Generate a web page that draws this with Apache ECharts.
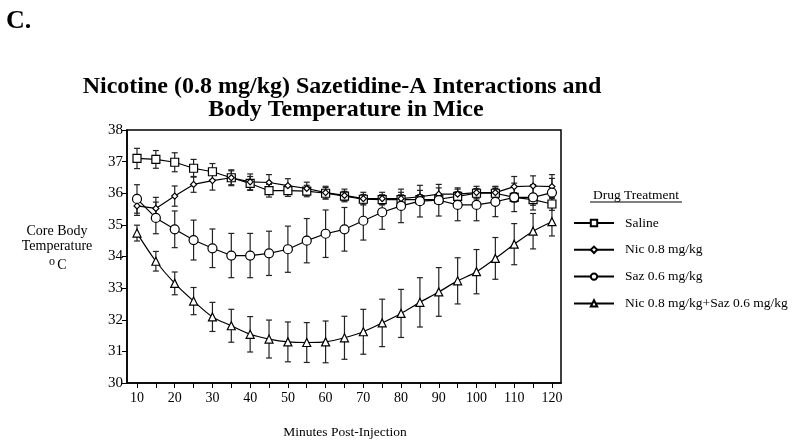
<!DOCTYPE html>
<html>
<head>
<meta charset="utf-8">
<script src="https://cdn.jsdelivr.net/npm/echarts@6/dist/echarts.min.js"></script>
<style>
  html, body { margin: 0; padding: 0; background: #fff; }
  #chart { width: 800px; height: 445px; }
</style>
</head>
<body>
<div id="chart"></div>
<script>
// minutes post-injection
const minutes = [10, 15, 20, 25, 30, 35, 40, 45, 50, 55, 60, 65, 70, 75, 80, 85, 90, 95, 100, 105, 110, 115, 120]
const xTicks = [10, 15, 20, 25, 30, 35, 40, 45, 50, 55, 60, 65, 70, 75, 80, 85, 90, 95, 100, 105, 110, 115, 120]
const xLabels = [10, 20, 30, 40, 50, 60, 70, 80, 90, 100, 110, 120]

// core body temperature (mean) and error
const saline = [37.10, 37.07, 36.98, 36.79, 36.68, 36.49, 36.31, 36.08, 36.08, 36.07, 36.00, 35.91, 35.81, 35.80, 35.80, 35.80, 35.81, 35.90, 36.00, 36.00, 35.87, 35.80, 35.66]
const salineErr = [0.32, 0.28, 0.30, 0.28, 0.26, 0.22, 0.22, 0.20, 0.18, 0.18, 0.18, 0.15, 0.15, 0.15, 0.15, 0.15, 0.15, 0.15, 0.15, 0.15, 0.15, 0.18, 0.20]
const nic = [35.60, 35.52, 35.91, 36.28, 36.40, 36.49, 36.36, 36.34, 36.24, 36.15, 36.02, 35.93, 35.83, 35.83, 35.83, 35.89, 35.97, 35.97, 36.02, 36.02, 36.21, 36.23, 36.21]
const nicErr = [0.30, 0.35, 0.32, 0.25, 0.30, 0.25, 0.25, 0.25, 0.22, 0.20, 0.20, 0.20, 0.20, 0.20, 0.20, 0.20, 0.20, 0.20, 0.20, 0.20, 0.32, 0.32, 0.38]
const saz = [35.82, 35.22, 34.86, 34.52, 34.26, 34.03, 34.03, 34.10, 34.23, 34.50, 34.72, 34.86, 35.13, 35.40, 35.60, 35.75, 35.78, 35.63, 35.63, 35.73, 35.87, 35.87, 36.02]
const sazErr = [0.45, 0.50, 0.58, 0.63, 0.61, 0.70, 0.70, 0.70, 0.73, 0.70, 0.75, 0.69, 0.61, 0.54, 0.53, 0.50, 0.50, 0.50, 0.50, 0.47, 0.45, 0.40, 0.45]
const combo = [34.74, 33.85, 33.15, 32.59, 32.09, 31.81, 31.54, 31.39, 31.30, 31.28, 31.30, 31.43, 31.62, 31.90, 32.20, 32.55, 32.88, 33.23, 33.52, 33.94, 34.39, 34.80, 35.10]
const comboErr = [0.25, 0.31, 0.36, 0.43, 0.46, 0.52, 0.56, 0.60, 0.63, 0.63, 0.66, 0.68, 0.71, 0.75, 0.76, 0.78, 0.77, 0.73, 0.70, 0.66, 0.65, 0.56, 0.45]

const serif = '"Liberation Serif", "Times New Roman", serif'

const groups = [
  { name: 'Saline', mean: saline, err: salineErr, symbol: 'rect', size: 8 },
  { name: 'Nic 0.8 mg/kg', mean: nic, err: nicErr, symbol: 'diamond', size: 6 },
  { name: 'Saz 0.6 mg/kg', mean: saz, err: sazErr, symbol: 'circle', size: 9 },
  { name: 'Nic 0.8 mg/kg+Saz 0.6 mg/kg', mean: combo, err: comboErr, symbol: 'triangle', size: 8 }
]

function pairs (ys, es) {
  return minutes.map((m, i) => es ? [m, ys[i], es[i]] : [m, ys[i]])
}

// error bars with caps on both ends
function renderErr (params, api) {
  const x = api.value(0)
  const y = api.value(1)
  const e = api.value(2)
  const top = api.coord([x, y + e])
  const bot = api.coord([x, y - e])
  const w = 3
  const style = { stroke: '#222', lineWidth: 1.2 }
  return {
    type: 'group',
    children: [
      { type: 'line', shape: { x1: top[0], y1: top[1], x2: bot[0], y2: bot[1] }, style: style },
      { type: 'line', shape: { x1: top[0] - w, y1: top[1], x2: top[0] + w, y2: top[1] }, style: style },
      { type: 'line', shape: { x1: bot[0] - w, y1: bot[1], x2: bot[0] + w, y2: bot[1] }, style: style }
    ]
  }
}

const series = []
groups.forEach(g => {
  series.push({
    name: g.name + ' err',
    type: 'custom',
    renderItem: renderErr,
    data: pairs(g.mean, g.err),
    z: 1,
    silent: true
  })
})
groups.forEach(g => {
  series.push({
    name: g.name,
    type: 'line',
    data: pairs(g.mean),
    symbol: g.symbol,
    symbolSize: g.size,
    showAllSymbol: true,
    smooth: g.symbol === 'triangle' ? 0.3 : false,
    lineStyle: { color: '#000', width: 1.2 },
    itemStyle: { color: '#fff', borderColor: '#000', borderWidth: 1.2 },
    emphasis: { disabled: true },
    z: 3
  })
})

const chart = echarts.init(document.getElementById('chart'))
chart.setOption({
  backgroundColor: '#fff',
  animation: false,
  textStyle: { fontFamily: serif },
  grid: {
    left: 127,
    top: 130,
    width: 434,
    height: 253,
    show: true,
    borderColor: '#000',
    borderWidth: 1.5,
    containLabel: false
  },
  xAxis: {
    type: 'value',
    min: 7.35,
    max: 122.4,
    splitLine: { show: false },
    axisLine: { onZero: false, lineStyle: { color: '#000', width: 1.5 } },
    axisTick: { customValues: xTicks, length: 5, lineStyle: { color: '#000' } },
    axisLabel: { customValues: xLabels, color: '#000', fontSize: 14, fontFamily: serif, margin: 8 }
  },
  yAxis: {
    type: 'value',
    min: 30,
    max: 38,
    interval: 1,
    splitLine: { show: false },
    axisLine: { show: true, lineStyle: { color: '#000', width: 1.5 } },
    axisTick: { show: true, length: 5, lineStyle: { color: '#000' } },
    axisLabel: { color: '#000', fontSize: 15, fontFamily: serif, margin: 4 }
  },
  legend: {
    data: groups.map(g => g.name),
    orient: 'vertical',
    left: 573,
    top: 216,
    padding: 0,
    itemWidth: 40,
    itemHeight: 8,
    itemGap: 12.8,
    selectedMode: false,
    textStyle: { color: '#000', fontSize: 13.5, fontFamily: serif, padding: [0, 0, 0, 6] }
  },
  graphic: [
    { type: 'text', left: 6, top: 8, style: { text: 'C.', font: 'bold 26px ' + serif, fill: '#000' } },
    {
      type: 'text', x: 342, y: 87,
      style: { text: 'Nicotine (0.8 mg/kg) Sazetidine-A Interactions and', font: 'bold 24px ' + serif, fill: '#000', align: 'center', verticalAlign: 'middle' }
    },
    {
      type: 'text', x: 346, y: 110,
      style: { text: 'Body Temperature in Mice', font: 'bold 24px ' + serif, fill: '#000', align: 'center', verticalAlign: 'middle' }
    },
    { type: 'text', x: 57, y: 231, style: { text: 'Core Body', font: '14px ' + serif, fill: '#000', align: 'center', verticalAlign: 'middle' } },
    { type: 'text', x: 57, y: 246, style: { text: 'Temperature', font: '14px ' + serif, fill: '#000', align: 'center', verticalAlign: 'middle' } },
    { type: 'text', x: 52, y: 262, style: { text: 'o', font: '12px ' + serif, fill: '#000', align: 'center', verticalAlign: 'middle' } },
    { type: 'text', x: 62, y: 265, style: { text: 'C', font: '14px ' + serif, fill: '#000', align: 'center', verticalAlign: 'middle' } },
    { type: 'text', x: 345, y: 432, style: { text: 'Minutes Post-Injection', font: '13.5px ' + serif, fill: '#000', align: 'center', verticalAlign: 'middle' } },
    { type: 'text', x: 636, y: 195, style: { text: 'Drug Treatment', font: '13.5px ' + serif, fill: '#000', align: 'center', verticalAlign: 'middle' } },
    { type: 'line', shape: { x1: 590, y1: 202, x2: 682, y2: 202 }, style: { stroke: '#000', lineWidth: 1 } }
  ],
  series: series
})
</script>
</body>
</html>
